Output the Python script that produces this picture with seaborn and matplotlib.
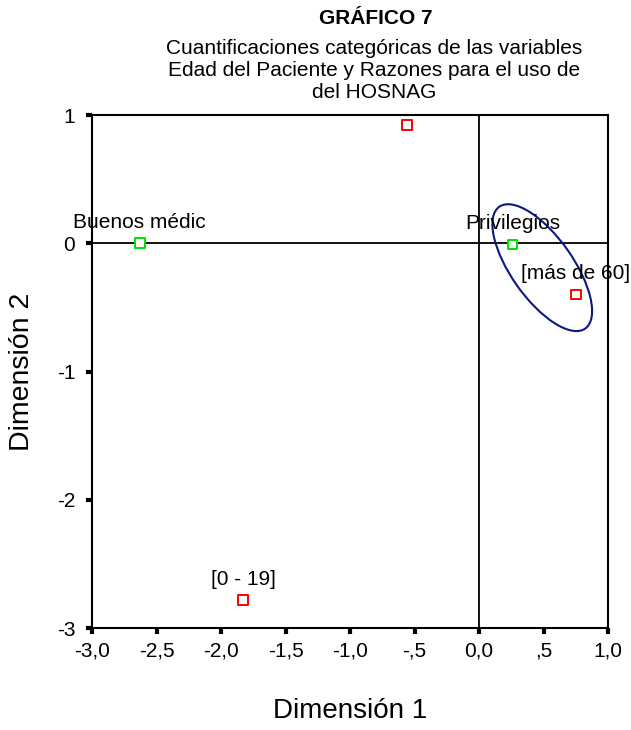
import matplotlib
matplotlib.use("Agg")
import matplotlib.pyplot as plt
from matplotlib.patches import Ellipse
import seaborn as sns
import pandas as pd

# Data
labels = ["", "[más de 60]", "[0 - 19]", "Buenos médic", "Privilegios"]
dim1 = [-0.56, 0.75, -1.83, -2.63, 0.26]
dim2 = [0.92, -0.40, -2.78, 0.00, -0.01]
variable = ["Edad", "Edad", "Edad", "Razones", "Razones"]
xticks = [-3.0, -2.5, -2.0, -1.5, -1.0, -0.5, 0.0, 0.5, 1.0]
xticklabels = ["-3,0", "-2,5", "-2,0", "-1,5", "-1,0", "-,5", "0,0", ",5", "1,0"]
yticks = [1, 0, -1, -2, -3]
yticklabels = ["1", "0", "-1", "-2", "-3"]

df = pd.DataFrame({"label": labels, "Dim1": dim1, "Dim2": dim2, "var": variable})

sns.set_theme(style="white")
plt.rcParams["font.family"] = ["Liberation Sans", "DejaVu Sans"]
plt.rcParams["text.color"] = "black"
plt.rcParams["axes.labelcolor"] = "black"
plt.rcParams["xtick.color"] = "black"
plt.rcParams["ytick.color"] = "black"

fig = plt.figure(figsize=(6.31, 7.30), dpi=100)
ax = fig.add_axes([0.1458, 0.1397, 0.8178, 0.7027])

ax.axhline(0, color="black", lw=1.3, zorder=1)
ax.axvline(0, color="black", lw=1.3, zorder=1)

sns.scatterplot(data=df, x="Dim1", y="Dim2", hue="var",
                palette={"Edad": "#ff0000", "Razones": "#00e000"},
                marker="s", s=50, linewidth=1.4,
                legend=False, ax=ax, zorder=3)
coll = ax.collections[0]
ec = coll.get_facecolors()
coll.set_edgecolors(ec)
coll.set_facecolors("white")

for lab, x, y in zip(labels, dim1, dim2):
    if lab:
        ax.annotate(lab, (x, y), xytext=(0, 11), textcoords="offset points",
                    ha="center", va="baseline", fontsize=15, color="black",
                    zorder=4)

ell = Ellipse((0.49, -0.19), width=1.16, height=0.48, angle=-55,
              fill=False, edgecolor="#0a1a80", lw=1.5, zorder=2)
ax.add_patch(ell)

ax.set_xlim(-3.0, 1.0)
ax.set_ylim(-3.0, 1.0)
ax.set_xticks(xticks)
ax.set_xticklabels(xticklabels, fontsize=15)
ax.set_yticks(yticks)
ax.set_yticklabels(yticklabels, fontsize=15)
ax.tick_params(axis="both", direction="out", length=4, width=3, color="black",
               labelcolor="black", bottom=True, left=True)
ax.tick_params(axis="x", pad=6)
ax.tick_params(axis="y", pad=8)
for sp in ax.spines.values():
    sp.set_color("black")
    sp.set_linewidth(1.5)

ax.set_xlabel("Dimensión 1", fontsize=20, va="top", color="black")
ax.xaxis.set_label_coords(0.5, -0.136)
ax.set_ylabel("Dimensión 2", fontsize=20.5, va="center", color="black")
ax.yaxis.set_label_coords(-0.136, 0.5)

fig.text(0.596, 1 - 19 / 730, "GRÁFICO 7", ha="center", va="center",
         fontsize=15, fontweight="bold")
fig.text(0.593, 1 - 48 / 730, "Cuantificaciones categóricas de las variables",
         ha="center", va="center", fontsize=15)
fig.text(0.593, 1 - 70 / 730, "Edad del Paciente y Razones para el uso de",
         ha="center", va="center", fontsize=15)
fig.text(0.593, 1 - 92 / 730, "del HOSNAG", ha="center", va="center", fontsize=15)

fig.savefig("out.png", dpi=100, facecolor="white")
